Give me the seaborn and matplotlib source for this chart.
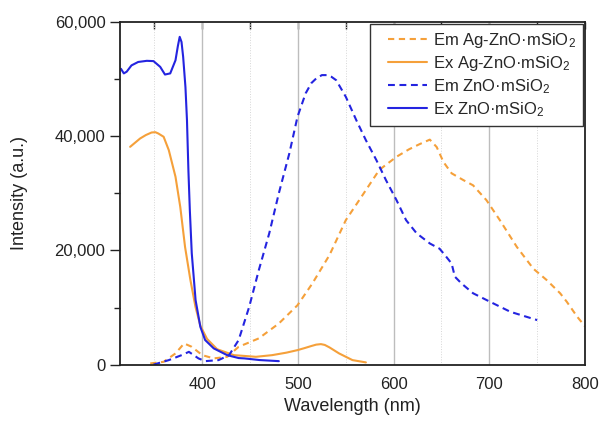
"""Excitation and emission spectra of ZnO·mSiO2 and Ag-ZnO·mSiO2."""

import matplotlib.pyplot as plt
import seaborn as sns
from matplotlib.path import Path
from matplotlib.ticker import FuncFormatter, MultipleLocator, NullFormatter

# Ex ZnO·mSiO2 (blue solid)
EX_ZNO_NM = [315, 318, 321, 326, 333, 342, 349, 356, 361, 366.5, 372, 374.5, 376.4,
             378.3, 380, 382.4, 384, 385.5, 387, 389, 393, 398, 403, 412, 426, 438,
             444, 460, 480]
EX_ZNO_I = [51800, 51000, 51300, 52400, 53000, 53200, 53150, 52150, 50800, 51000,
            53300, 55800, 57400, 56500, 53900, 48600, 42800, 34000, 27000, 19500,
            11300, 6600, 4300, 2840, 1660, 1150, 1090, 800, 610]

# Ex Ag-ZnO·mSiO2 (orange solid)
EX_AG_NM = [324.6, 335, 341, 347, 351, 354, 359.6, 365, 372, 377, 382, 387.6, 392.9,
            398, 405, 415.5, 433, 456, 473, 488, 499.5, 507, 513.6, 519, 524, 528,
            533, 543, 557, 571]
EX_AG_I = [38140, 39600, 40200, 40650, 40700, 40480, 39900, 37560, 32900, 27600,
           20600, 14800, 10100, 6800, 4500, 2700, 1660, 1370, 1660, 2100, 2540, 2900,
           3240, 3500, 3590, 3450, 3010, 1960, 790, 390]

# Em ZnO·mSiO2 (blue dashed)
EM_ZNO_NM = [349, 365, 379, 386, 396, 403, 417, 428, 438, 449, 459, 470, 480, 491,
             499.5, 508, 514, 519, 525, 530, 535, 540, 550, 561, 571, 582, 592, 603,
             613, 624, 638, 648, 653.5, 660.6, 664, 671, 683, 700.8, 722, 750]
EM_ZNO_I = [0, 790, 1700, 2240, 1090, 610, 790, 1660, 4300, 10100, 16500, 23000,
            30000, 37000, 43400, 47500, 49300, 50100, 50700, 50700, 50400, 49800,
            46900, 42800, 39300, 35800, 32300, 28800, 25300, 23000, 21200, 20300,
            19200, 17700, 15400, 14200, 12500, 11000, 9250, 7800]

# Em Ag-ZnO·mSiO2 (orange dashed)
EM_AG_NM = [345.6, 359.6, 372, 381, 389, 400, 412, 426, 438, 459, 480, 499.5, 515,
            533, 550, 564, 585, 603, 616, 627, 637.8, 645, 652, 660.6, 673, 683, 697,
            711, 728.8, 746, 760, 774, 781, 791.8, 800]
EM_AG_I = [210, 490, 1960, 3710, 3120, 1660, 1090, 1370, 3120, 4590, 7200, 10400,
           14200, 19200, 25300, 28800, 34100, 36400, 37700, 38600, 39400, 38100,
           35500, 33500, 32300, 31400, 28800, 25300, 20600, 16800, 14800, 12500,
           11000, 8400, 6700]

ORANGE = "#F5A03A"
BLUE = "#2424E0"
INK = "#222222"


def legend_box(x0, y0, width, height, mutation_size):
    """Square legend frame with a little extra room on the left."""
    left = x0 - 0.7 * mutation_size
    right = x0 + width
    top = y0 + height
    return Path([(left, y0), (right, y0), (right, top), (left, top), (left, y0)],
                closed=True)


def main() -> None:
    sns.set_theme(style="white")
    plt.rcParams["font.family"] = ["Liberation Sans", "DejaVu Sans"]
    plt.rcParams["mathtext.fontset"] = "custom"
    plt.rcParams["mathtext.rm"] = "Liberation Sans"
    plt.rcParams["mathtext.default"] = "regular"

    fig = plt.figure(figsize=(6.0, 4.23), dpi=100)
    ax = fig.add_axes([0.2, 0.138, 0.775, 0.81])

    sns.lineplot(x=EM_AG_NM, y=EM_AG_I, ax=ax, color=ORANGE, lw=1.5,
                 sort=False, label="Em Ag-ZnO·mSiO$_2$")
    sns.lineplot(x=EX_AG_NM, y=EX_AG_I, ax=ax, color=ORANGE, lw=1.5,
                 sort=False, label="Ex Ag-ZnO·mSiO$_2$")
    sns.lineplot(x=EM_ZNO_NM, y=EM_ZNO_I, ax=ax, color=BLUE, lw=1.5,
                 sort=False, label="Em ZnO·mSiO$_2$")
    sns.lineplot(x=EX_ZNO_NM, y=EX_ZNO_I, ax=ax, color=BLUE, lw=1.5,
                 sort=False, label="Ex ZnO·mSiO$_2$")
    ax.lines[0].set_dashes((3, 2.2))
    ax.lines[2].set_dashes((3.3, 2.2))

    ax.set_xlim(314, 800)
    ax.set_ylim(0, 60000)
    ax.xaxis.set_major_locator(MultipleLocator(100))
    ax.xaxis.set_minor_locator(MultipleLocator(50))
    ax.yaxis.set_major_locator(MultipleLocator(20000))
    ax.yaxis.set_minor_locator(MultipleLocator(10000))
    ax.yaxis.set_major_formatter(FuncFormatter(lambda v, _: f"{v:,.0f}"))

    ax.grid(True, which="major", axis="x", color="#bdbdbd", lw=1.0, ls="-")
    ax.grid(True, which="minor", axis="x", color="#d6d6d6", lw=0.7, ls=":")
    ax.grid(False, axis="y")

    for spine in ax.spines.values():
        spine.set_color(INK)
        spine.set_linewidth(1.3)

    ax.tick_params(axis="both", which="both", direction="out", colors=INK,
                   labelcolor=INK, labelsize=12, width=1.0)
    ax.tick_params(axis="x", which="both", length=5, pad=4)
    ax.tick_params(axis="y", which="major", length=7, left=True)
    ax.tick_params(axis="y", which="minor", length=4, left=True)

    # inward ticks along the top edge
    top = ax.secondary_xaxis("top")
    top.xaxis.set_major_locator(MultipleLocator(50))
    top.xaxis.set_major_formatter(NullFormatter())
    top.tick_params(direction="in", length=5, width=1.0, colors=INK)
    top.spines["top"].set_visible(False)

    ax.set_xlabel("Wavelength (nm)", fontsize=13, color=INK, labelpad=4)
    ax.set_ylabel("Intensity (a.u.)", fontsize=13, color=INK, labelpad=19)

    leg = ax.legend(loc="upper right", fontsize=12, frameon=True, fancybox=False,
                    handlelength=2.3, borderaxespad=0.1, labelspacing=0.25,
                    handletextpad=0.4, borderpad=0.42)
    frame = leg.get_frame()
    frame.set_boxstyle(legend_box)
    frame.set_edgecolor("#333333")
    frame.set_linewidth(1.0)
    frame.set_alpha(1.0)

    fig.savefig("out.png", dpi=100)
    plt.close(fig)


if __name__ == "__main__":
    main()
